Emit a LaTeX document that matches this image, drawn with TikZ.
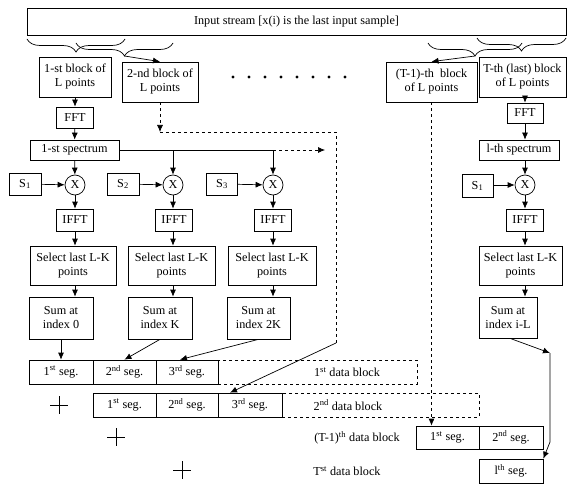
\documentclass[tikz,border=0pt]{standalone}
\usepackage{fontspec}
\setmainfont{Liberation Serif}
\usetikzlibrary{arrows.meta,decorations.pathreplacing}

\begin{document}
\begin{tikzpicture}[x=1pt,y=-1pt,line width=0.7pt,>={Latex[length=7pt,width=6pt]},
    font=\fontsize{12.2}{14}\selectfont,
    bx/.style 2 args={draw,align=center,inner sep=0pt,minimum width=#1pt,minimum height=#2pt},
    mul/.style={draw,circle,minimum size=20pt,inner sep=0pt},
    brc/.style={decorate,decoration={brace,mirror,amplitude=13pt}}]
\useasboundingbox (0,0) rectangle (570,484);

% input stream and the blocks taken from it
\node[bx={539}{27}] (input) at (296.5,21.5) {Input stream [x(i) is the last input sample]};
\draw[brc] (27,39) -- (125,39);
\draw[brc] (76,43) -- (173,43);
\draw[brc] (428,43) -- (522,43);
\draw[brc] (477,38) -- (566,38);
\coordinate (tipB) at (124.5,56);
\coordinate (tipC) at (475,56);

\node[bx={72}{40}] (blkA) at (75,77) {1-st block of\\L points};
\node[bx={76}{40}] (blkB) at (160,82) {2-nd block of\\L points};
\node[bx={91}{40}] (blkC) at (431.5,82) {(T-1)-th\ \ block\\of L points};
\node[bx={87}{40}] (blkD) at (522.5,77) {T-th (last) block\\of L points};
\foreach \i in {0,...,7}
    \fill ({233+16*\i},77) circle (1.7);
\draw[->] (tipB) -- (blkB.north);
\draw[->] (tipC) -- (blkC.north);

% first block: FFT and spectrum
\node[bx={37}{21}] (fftA) at (75,117.5) {FFT};
\node[bx={89}{20}] (specA) at (74.5,150) {1-st spectrum};
\draw[->] (blkA) -- (fftA);
\draw[->] (fftA) -- (specA);

% last block: FFT and spectrum
\node[bx={36}{20}] (fftD) at (525,113) {FFT};
\node[bx={80}{20}] (specD) at (519,150) {l-th spectrum};
\draw[->] (blkD.south -| fftD) -- (fftD);
\draw[->] (fftD) -- (specD.north -| fftD);

% multipliers
\node[mul] (mulA) at (75,185) {X};
\node[mul] (mulB) at (173,185) {X};
\node[mul] (mulC) at (273,185) {X};
\node[mul] (mulD) at (525,185) {X};
\node[bx={32}{22}] (sA) at (25,184) {S\textsubscript{1}};
\node[bx={32}{22}] (sB) at (123,184) {S\textsubscript{2}};
\node[bx={31}{22}] (sC) at (222,184) {S\textsubscript{3}};
\node[bx={31}{23}] (sD) at (477.5,186) {S\textsubscript{1}};
\draw[->] (sA) -- (mulA);
\draw[->] (sB) -- (mulB);
\draw[->] (sC) -- (mulC);
\draw[->] (sD.east |- mulD) -- (mulD);

\coordinate (dashEnd) at (325,150);
\draw[->] (specA) -- (mulA);
\draw (specA.east) -- (mulC |- specA.east);
\draw[->] (mulB |- specA.east) -- (mulB);
\draw[->] (mulC |- specA.east) -- (mulC);
\draw[dashed,->] (mulC |- specA.east) -- (dashEnd);
\draw[->] (specD.south -| mulD) -- (mulD);

% IFFT, select and sum
\node[bx={37}{22}] (ifftA) at (75,220) {IFFT};
\node[bx={37}{22}] (ifftB) at (174,220) {IFFT};
\node[bx={37}{22}] (ifftC) at (273,220) {IFFT};
\node[bx={37}{22}] (ifftD) at (525,220) {IFFT};
\node[bx={86}{39}] (selA) at (73,265.5) {Select last L-K\\points};
\node[bx={87}{39}] (selB) at (171.5,265.5) {Select last L-K\\points};
\node[bx={88}{39}] (selC) at (272,265.5) {Select last L-K\\points};
\node[bx={83}{39}] (selD) at (520.5,265.5) {Select last L-K\\points};
\node[bx={64}{42}] (sumA) at (61,318) {Sum at\\index 0};
\node[bx={64}{42}] (sumB) at (160,318) {Sum at\\index K};
\node[bx={63}{42}] (sumC) at (258.5,318) {Sum at\\index 2K};
\node[bx={58}{41}] (sumD) at (508,317.5) {Sum at\\index i-L};
\foreach \c in {A,B,C,D} {
    \draw[->] (mul\c) -- (ifft\c.north -| mul\c);
    \draw[->] (ifft\c.south -| mul\c) -- (sel\c.north -| mul\c);
    \draw[->] (sel\c.south -| mul\c) -- (sum\c.north -| mul\c);
}

% output data blocks
\node[bx={64}{24}] (r1s1) at (61,372) {1\textsuperscript{st} seg.};
\node[bx={63}{24}] (r1s2) at (124.5,372) {2\textsuperscript{nd} seg.};
\node[bx={62}{24}] (r1s3) at (187,372) {3\textsuperscript{rd} seg.};
\node[bx={199}{24},dashed] (dat1) at (317.5,372) {};
\node (lbl1) at (347,372) {1\textsuperscript{st} data block};

\node[bx={63}{24}] (r2s1) at (124.5,405) {1\textsuperscript{st} seg.};
\node[bx={62}{24}] (r2s2) at (187,405) {2\textsuperscript{nd} seg.};
\node[bx={64}{24}] (r2s3) at (250,405) {3\textsuperscript{rd} seg.};
\node[bx={197}{24},dashed] (dat2) at (380.5,405) {};
\node (lbl2) at (348,405) {2\textsuperscript{nd} data block};

\node (lbl3) at (357,438) {(T-1)\textsuperscript{th} data block};
\node[bx={63}{23}] (r3s1) at (447.5,437.5) {1\textsuperscript{st} seg.};
\node[bx={64}{23}] (r3s2) at (511,437.5) {2\textsuperscript{nd} seg.};

\node (lbl4) at (347,471) {T\textsuperscript{st} data block};
\node[bx={64}{24}] (r4s1) at (511,471) {l\textsuperscript{th} seg.};

\foreach \px/\py in {59/405,116/437,182/470}
    \draw[line width=0.6pt] (\px,\py) ++(-9,0) -- ++(18,0) (\px,\py) ++(0,-9) -- ++(0,18);

% sums into the segments
\draw[->] (sumA) -- (r1s1);
\draw[->] (sumB.south) -- (r1s2.north);
\draw[->] (sumC.south) -- ([xshift=-7]r1s3.north);

% second block path
\coordinate (bendB) at (160,132);
\coordinate (bendC) at (336,343);
\draw[dashed,->] (blkB.south) -- (bendB);
\draw[dashed] (bendB) -| (bendC);
\draw[->] (bendC) -- ([xshift=-20]r2s3.north);

% last blocks
\draw[dashed,->] (blkC.south) -- (blkC.south |- r3s1.north);
\coordinate (kneeD) at (550,353);
\coordinate (kneeE) at (550,442);
\draw[->] ([xshift=2]sumD.south) -- (kneeD);
\draw[->] (kneeD) -- (kneeE) -- (r4s1.north east);
\end{tikzpicture}
\end{document}
